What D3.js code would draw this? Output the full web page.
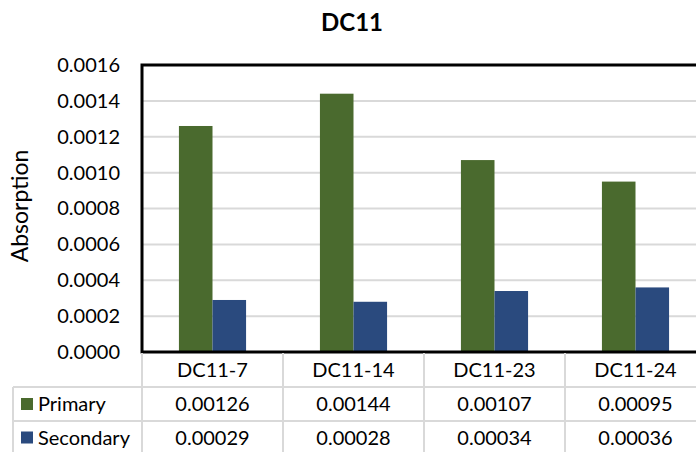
<!DOCTYPE html>
<html>
<head>
<meta charset="utf-8">
<script src="https://cdn.jsdelivr.net/npm/d3@7"></script>
<style>
  html, body { margin: 0; padding: 0; background: #fff; }
  svg { display: block; font-family: Lato, "Liberation Sans", sans-serif; }
</style>
</head>
<body>
<svg id="chart" width="696" height="452"></svg>
<script>
// Absorption readings per sample
const categories = ["DC11-7", "DC11-14", "DC11-23", "DC11-24"];
const seriesNames = ["Primary", "Secondary"];
const primary = [0.00126, 0.00144, 0.00107, 0.00095];
const secondary = [0.00029, 0.00028, 0.00034, 0.00036];
const yTicks = [0, 0.0002, 0.0004, 0.0006, 0.0008, 0.0010, 0.0012, 0.0014, 0.0016];
const colors = ["#4a6a2e", "#2a4a7e"];

const svg = d3.select("#chart");
const plot = { left: 142, right: 706, top: 65, bottom: 352 };
const tableRows = [352, 387, 421, 460];
const tableLeft = 13;

const x = d3.scaleBand().domain(categories).range([plot.left, plot.right]).paddingInner(0).paddingOuter(0);
const xs = d3.scaleBand().domain(seriesNames).range([0, x.bandwidth()]).paddingInner(0).paddingOuter(1.1);
const y = d3.scaleLinear().domain([0, 0.0016]).range([plot.bottom, plot.top]);

const values = [primary, secondary];
const rows = categories.map((c, i) => ({ cat: c, vals: seriesNames.map((s, j) => ({ s, j, v: values[j][i] })) }));

// Title
svg.append("text").attr("x", 352).attr("y", 31).attr("text-anchor", "middle")
  .attr("font-size", 24).attr("font-weight", "bold").attr("fill", "#000").text("DC11");

// Horizontal gridlines
svg.append("g").selectAll("line").data(yTicks.slice(1, -1)).join("line")
  .attr("x1", plot.left).attr("x2", plot.right)
  .attr("y1", d => y(d)).attr("y2", d => y(d))
  .attr("stroke", "#d9d9d9").attr("stroke-width", 2);

// Bars
const groups = svg.append("g").selectAll("g").data(rows).join("g")
  .attr("transform", d => `translate(${x(d.cat)},0)`);
groups.selectAll("rect").data(d => d.vals).join("rect")
  .attr("x", d => xs(d.s)).attr("width", xs.bandwidth())
  .attr("y", d => y(d.v)).attr("height", d => y(0) - y(d.v))
  .attr("fill", d => colors[d.j]);

// Y axis tick labels
const yAxis = d3.axisLeft(y).tickValues(yTicks).tickFormat(d3.format(".4f")).tickSize(0).tickPadding(22);
const ya = svg.append("g").attr("transform", `translate(${plot.left},0)`).call(yAxis);
ya.select(".domain").remove();
ya.selectAll("text").attr("font-size", 20).attr("fill", "#000").attr("font-family", "Lato, sans-serif");

// Plot frame
svg.append("path")
  .attr("d", `M${plot.right},${plot.top}H${plot.left}V${plot.bottom}H${plot.right}`)
  .attr("fill", "none").attr("stroke", "#000").attr("stroke-width", 3);

// Y axis title
svg.append("text").attr("transform", "translate(28,206) rotate(-90)")
  .attr("text-anchor", "middle").attr("font-size", 23).attr("fill", "#000").text("Absorption");

// Data table grid
const tg = svg.append("g").attr("stroke", "#d9d9d9").attr("stroke-width", 2);
categories.forEach(c => {
  tg.append("line").attr("x1", x(c)).attr("x2", x(c)).attr("y1", plot.bottom + 1).attr("y2", 452);
});
tg.append("line").attr("x1", tableLeft).attr("x2", tableLeft).attr("y1", tableRows[1]).attr("y2", 452);
tableRows.slice(1, 3).forEach(ry => {
  tg.append("line").attr("x1", tableLeft).attr("x2", 696).attr("y1", ry).attr("y2", ry);
});

// Category header row
svg.append("g").selectAll("text").data(categories).join("text")
  .attr("x", d => x(d) + x.bandwidth() / 2).attr("y", (tableRows[0] + tableRows[1]) / 2 + 7)
  .attr("text-anchor", "middle").attr("font-size", 20).attr("fill", "#000").text(d => d);

// Series rows with legend keys and values
seriesNames.forEach((s, j) => {
  const cy = (tableRows[j + 1] + tableRows[j + 2]) / 2 - (j === 1 ? 3 : 0);
  svg.append("rect").attr("x", 21).attr("y", cy - 6).attr("width", 12).attr("height", 12).attr("fill", colors[j]);
  svg.append("text").attr("x", 38).attr("y", cy + 7).attr("font-size", 20).attr("fill", "#000").text(s);
  svg.append("g").selectAll("text").data(categories).join("text")
    .attr("x", d => x(d) + x.bandwidth() / 2).attr("y", cy + 7)
    .attr("text-anchor", "middle").attr("font-size", 20).attr("fill", "#000")
    .text((d, i) => d3.format(".5f")(values[j][i]));
});
</script>
</body>
</html>
